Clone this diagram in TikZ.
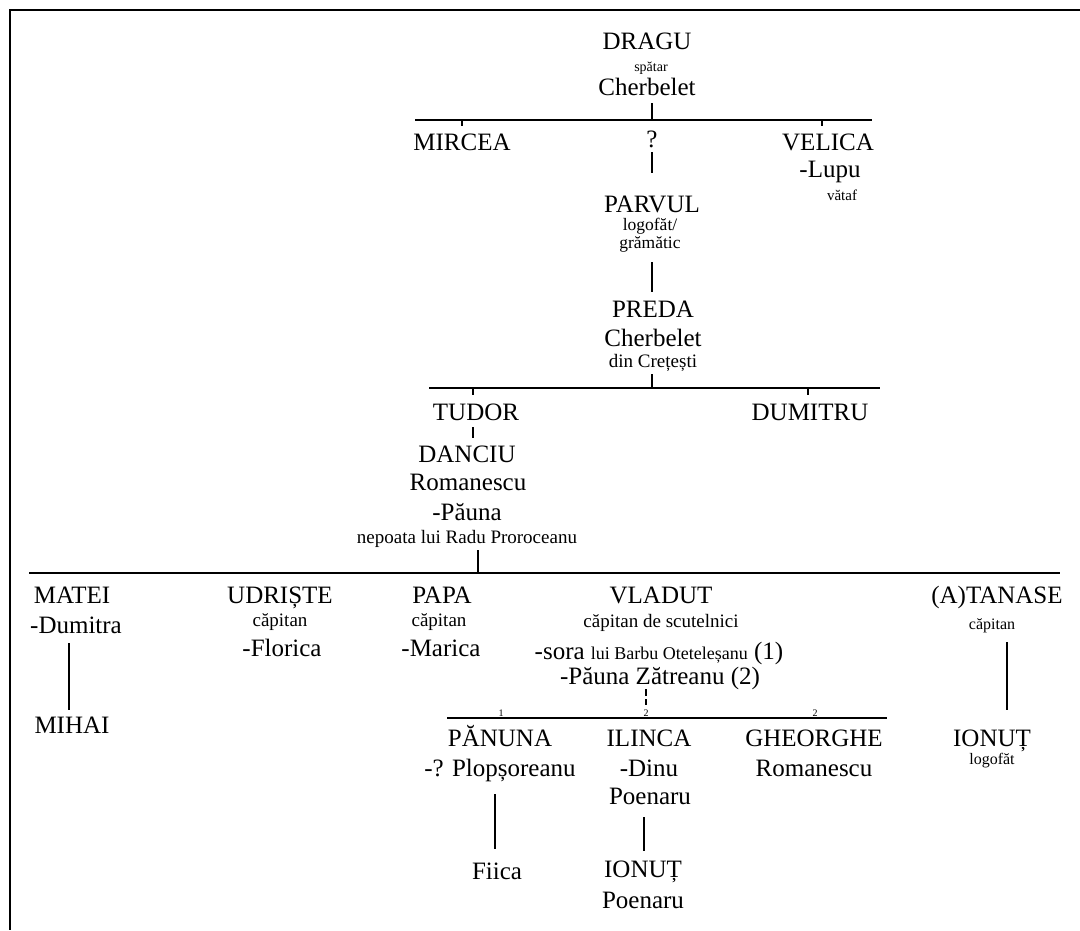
\documentclass[tikz,border=0pt]{standalone}
\usepackage{fontspec}
\setmainfont{Liberation Serif}
\begin{document}
\begin{tikzpicture}[x=1pt,y=-1pt,
  every node/.style={inner sep=0pt,outer sep=0pt,anchor=base},
  nm/.style={font=\fontsize{25}{30}\selectfont},
  sm/.style={font=\fontsize{#1}{#1}\selectfont},
  sm/.default=18,
  dig/.style={font=\fontsize{10}{12}\selectfont},
  bar/.style={line width=1.5pt},
  tie/.style={line width=1.1pt},
  frame/.style={line width=2.5pt}]
\fill[white] (0,0) rectangle (1080,930);
\useasboundingbox (0,0) rectangle (1080,930);
% frame
\coordinate (frTR) at (1080,10);
\coordinate (frTL) at (10,10);
\coordinate (frBL) at (10,930);
\draw[frame] (frTR) -- (frTL) -- (frBL);

% ---------- generation 1
\node[nm] (dragu) at (647,49) {DRAGU};
\node[sm=14] (dragut) at (651,71) {spătar};
\node[nm] (dragun) at (647,95) {Cherbelet};

\coordinate (b1L) at (415,120);
\coordinate (b1R) at (872,120);
\coordinate (b1C) at (652,120);
\coordinate (draguD) at (652,103);
\draw[bar] (b1L) -- (b1R);
\draw[tie] (draguD) -- (b1C);

\node[nm] (mircea) at (462,150) {MIRCEA};
\node[nm] (q) at (652,147) {?};
\node[nm] (velica) at (828,150) {VELICA};
\node[nm] (lupu) at (830,177) {-Lupu};
\node[sm=15] (vataf) at (842,200) {vătaf};
\coordinate (mirceaT) at (462,126);
\coordinate (mirceaB) at (462,120);
\coordinate (velicaT) at (822,126);
\coordinate (velicaB) at (822,120);
\draw[tie] (mirceaB) -- (mirceaT);
\draw[tie] (velicaB) -- (velicaT);

\node[nm] (parvul) at (652,212) {PARVUL};
\node[sm=17.5] (logofat) at (650,230) {logofăt/};
\node[sm=17.5] (gramatic) at (650,248) {grămătic};
\coordinate (qD) at (652,152);
\coordinate (parvulU) at (652,173);
\draw[tie] (qD) -- (parvulU);

\node[nm] (preda) at (653,317) {PREDA};
\node[nm] (predan) at (653,346) {Cherbelet};
\node[sm=19] (predad) at (653,367) {din Crețești};
\coordinate (parvulD) at (652,262);
\coordinate (predaU) at (652,292);
\draw[tie] (parvulD) -- (predaU);

% ---------- generation bar 2
\coordinate (b2L) at (429,388);
\coordinate (b2R) at (880,388);
\coordinate (b2C) at (652,388);
\coordinate (predaD) at (652,374);
\draw[bar] (b2L) -- (b2R);
\draw[tie] (predaD) -- (b2C);

\node[nm] (tudor) at (476,420) {TUDOR};
\node[nm] (dumitru) at (810,420) {DUMITRU};
\coordinate (tudorB) at (473,388);
\coordinate (tudorT) at (473,395);
\coordinate (dumitruB) at (808,388);
\coordinate (dumitruT) at (808,395);
\draw[tie] (tudorB) -- (tudorT);
\draw[tie] (dumitruB) -- (dumitruT);

\node[nm] (danciu) at (467,462) {DANCIU};
\node[nm] (danciun) at (468,490) {Romanescu};
\node[nm] (pauna) at (467,520) {-Păuna};
\node[sm=19] (nepoata) at (467,543) {nepoata lui Radu Proroceanu};
\coordinate (tudorD) at (473,427);
\coordinate (danciuU) at (473,438);
\draw[tie] (tudorD) -- (danciuU);

% ---------- generation bar 3
\coordinate (b3L) at (29,573);
\coordinate (b3R) at (1060,573);
\coordinate (b3C) at (478,573);
\coordinate (nepoataD) at (478,550);
\draw[bar] (b3L) -- (b3R);
\draw[tie] (nepoataD) -- (b3C);

\node[nm] (matei) at (72,603) {MATEI};
\node[nm] (dumitra) at (76,633) {-Dumitra};
\node[nm] (mihai) at (72,733) {MIHAI};
\coordinate (dumitraD) at (69,643);
\coordinate (mihaiU) at (69,710);
\draw[tie] (dumitraD) -- (mihaiU);

\node[nm] (udriste) at (280,603) {UDRIȘTE};
\node[sm=19] (udrcap) at (280,626) {căpitan};
\node[nm] (florica) at (282,656) {-Florica};

\node[nm] (papa) at (442,603) {PAPA};
\node[sm=19] (papacap) at (439,626) {căpitan};
\node[nm] (marica) at (441,656) {-Marica};

\node[nm] (vladut) at (661,603) {VLADUT};
\node[sm=19] (vladcap) at (661,627) {căpitan de scutelnici};
\node[nm] (sora) at (659,659) {-sora {\fontsize{18}{20}\selectfont lui Barbu Oteteleșanu} (1)};
\node[nm] (zatreanu) at (660,684) {-Păuna Zătreanu (2)};

\node[nm] (tanase) at (997,603) {(A)TANASE};
\node[sm=16] (tancap) at (992,629) {căpitan};
\node[nm] (ionutr) at (992,746) {IONUȚ};
\node[sm=16] (ionutl) at (992,764) {logofăt};
\coordinate (tanaseD) at (1007,642);
\coordinate (ionutrU) at (1007,710);
\draw[tie] (tanaseD) -- (ionutrU);

% ---------- generation bar 4
\coordinate (b4L) at (447,718);
\coordinate (b4R) at (887,718);
\coordinate (zatreanuD) at (646,689);
\coordinate (b4C) at (646,705);
\draw[bar] (b4L) -- (b4R);
\draw[tie,dash pattern=on 7pt off 3pt] (zatreanuD) -- (b4C);

\node[dig] (n1) at (501,716) {1};
\node[dig] (n2) at (646,716) {2};
\node[dig] (n3) at (815,716) {2};

\node[nm] (panuna) at (500,746) {PĂNUNA};
\node[nm] (plop) at (500,776) {-? Plopșoreanu};
\node[nm] (ilinca) at (649,746) {ILINCA};
\node[nm] (dinu) at (649,776) {-Dinu};
\node[nm] (ilpoen) at (650,804) {Poenaru};
\node[nm] (gheorghe) at (814,746) {GHEORGHE};
\node[nm] (gheorghen) at (814,776) {Romanescu};

\node[nm] (fiica) at (497,879) {Fiica};
\node[nm] (ionutb) at (643,877) {IONUȚ};
\node[nm] (ionutp) at (643,908) {Poenaru};
\coordinate (plopD) at (495,794);
\coordinate (fiicaU) at (495,849);
\draw[tie] (plopD) -- (fiicaU);
\coordinate (ilpoenD) at (644,817);
\coordinate (ionutbU) at (644,851);
\draw[tie] (ilpoenD) -- (ionutbU);
\end{tikzpicture}
\end{document}
